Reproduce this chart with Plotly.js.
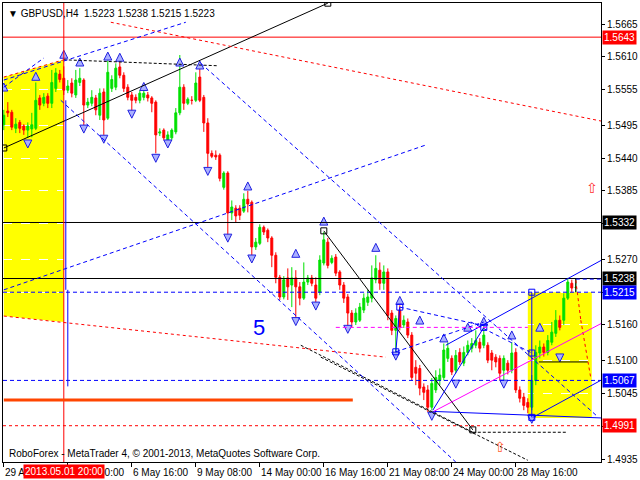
<!DOCTYPE html>
<html><head><meta charset="utf-8">
<script src="https://cdn.plot.ly/plotly-3.0.1.min.js"></script>
<style>html,body{margin:0;padding:0;background:#fff}</style>
</head><body><div id="chart" style="width:640px;height:480px"></div>
<script>
// ---- OHLC data (GBPUSD H4), bar 0 = 29 Apr 2013 08:00 ----
const barOpen = [1.5496,1.5519,1.5517,1.5490,1.5500,1.5494,1.5487,1.5489,1.5490,1.5541,1.5532,1.5544,1.5532,1.5557,1.5581,1.5574,1.5554,1.5566,1.5546,1.5567,1.5571,1.5529,1.5532,1.5541,1.5512,1.5551,1.5507,1.5557,1.5559,1.5593,1.5579,1.5559,1.5546,1.5542,1.5537,1.5542,1.5546,1.5541,1.5534,1.5482,1.5487,1.5470,1.5474,1.5484,1.5516,1.5559,1.5532,1.5537,1.5537,1.5576,1.5542,1.5499,1.5448,1.5445,1.5445,1.5391,1.5415,1.5348,1.5356,1.5356,1.5351,1.5371,1.5366,1.5291,1.5297,1.5324,1.5319,1.5306,1.5277,1.5240,1.5207,1.5239,1.5227,1.5239,1.5224,1.5205,1.5232,1.5239,1.5227,1.5215,1.5264,1.5299,1.5265,1.5274,1.5249,1.5227,1.5207,1.5180,1.5165,1.5168,1.5185,1.5198,1.5205,1.5236,1.5252,1.5230,1.5249,1.5180,1.5151,1.5185,1.5160,1.5165,1.5143,1.5089,1.5087,1.5056,1.5051,1.5022,1.5051,1.5067,1.5072,1.5104,1.5104,1.5084,1.5114,1.5096,1.5114,1.5121,1.5126,1.5131,1.5126,1.5126,1.5113,1.5106,1.5104,1.5084,1.5096,1.5084,1.5114,1.5051,1.5039,1.5030,1.5022,1.5067,1.5113,1.5123,1.5114,1.5131,1.5146,1.5168,1.5168,1.5205,1.5230,1.5223];
const barHigh = [1.5521,1.5534,1.5521,1.5507,1.5504,1.5497,1.5500,1.5516,1.5567,1.5546,1.5549,1.5549,1.5588,1.5591,1.5588,1.5594,1.5571,1.5574,1.5588,1.5591,1.5574,1.5541,1.5554,1.5546,1.5557,1.5557,1.5604,1.5579,1.5599,1.5601,1.5584,1.5564,1.5551,1.5547,1.5554,1.5554,1.5551,1.5544,1.5537,1.5490,1.5490,1.5485,1.5490,1.5524,1.5613,1.5564,1.5542,1.5544,1.5584,1.5596,1.5546,1.5507,1.5453,1.5453,1.5448,1.5418,1.5418,1.5369,1.5361,1.5361,1.5381,1.5385,1.5369,1.5306,1.5329,1.5327,1.5322,1.5309,1.5282,1.5244,1.5242,1.5255,1.5257,1.5252,1.5232,1.5265,1.5244,1.5244,1.5240,1.5277,1.5316,1.5306,1.5277,1.5279,1.5252,1.5232,1.5212,1.5185,1.5188,1.5197,1.5213,1.5219,1.5260,1.5277,1.5265,1.5260,1.5255,1.5185,1.5176,1.5193,1.5176,1.5171,1.5148,1.5101,1.5093,1.5062,1.5059,1.5071,1.5084,1.5087,1.5129,1.5131,1.5109,1.5118,1.5121,1.5124,1.5134,1.5138,1.5151,1.5138,1.5158,1.5131,1.5118,1.5111,1.5109,1.5109,1.5101,1.5131,1.5121,1.5057,1.5046,1.5037,1.5076,1.5126,1.5134,1.5129,1.5143,1.5165,1.5185,1.5176,1.5213,1.5239,1.5236,1.5238];
const barLow = [1.5487,1.5509,1.5487,1.5482,1.5482,1.5479,1.5474,1.5475,1.5487,1.5521,1.5527,1.5524,1.5524,1.5551,1.5567,1.5546,1.5549,1.5542,1.5541,1.5561,1.5495,1.5524,1.5527,1.5512,1.5504,1.5479,1.5504,1.5551,1.5554,1.5574,1.5551,1.5537,1.5517,1.5532,1.5532,1.5537,1.5535,1.5517,1.5448,1.5477,1.5470,1.5467,1.5470,1.5480,1.5512,1.5521,1.5529,1.5530,1.5534,1.5534,1.5484,1.5425,1.5440,1.5437,1.5401,1.5387,1.5311,1.5336,1.5332,1.5336,1.5348,1.5349,1.5277,1.5286,1.5294,1.5311,1.5299,1.5257,1.5230,1.5202,1.5203,1.5202,1.5190,1.5173,1.5193,1.5202,1.5227,1.5225,1.5197,1.5210,1.5260,1.5255,1.5262,1.5242,1.5219,1.5197,1.5156,1.5156,1.5160,1.5165,1.5180,1.5192,1.5198,1.5230,1.5219,1.5219,1.5168,1.5143,1.5113,1.5151,1.5155,1.5138,1.5067,1.5059,1.5042,1.5034,1.5014,1.5017,1.5046,1.5059,1.5067,1.5098,1.5076,1.5079,1.5093,1.5091,1.5109,1.5114,1.5121,1.5114,1.5121,1.5096,1.5084,1.5089,1.5067,1.5064,1.5077,1.5079,1.5046,1.5030,1.5017,1.5012,1.5017,1.5059,1.5104,1.5107,1.5109,1.5126,1.5140,1.5151,1.5160,1.5202,1.5215,1.5215];
const barClose = [1.5512,1.5516,1.5492,1.5497,1.5490,1.5487,1.5494,1.5496,1.5537,1.5529,1.5542,1.5532,1.5567,1.5583,1.5572,1.5554,1.5561,1.5549,1.5571,1.5574,1.5529,1.5534,1.5542,1.5521,1.5549,1.5504,1.5584,1.5572,1.5591,1.5579,1.5557,1.5542,1.5537,1.5537,1.5549,1.5549,1.5541,1.5532,1.5479,1.5484,1.5474,1.5479,1.5487,1.5516,1.5559,1.5532,1.5539,1.5537,1.5566,1.5537,1.5499,1.5448,1.5443,1.5442,1.5406,1.5415,1.5348,1.5358,1.5343,1.5344,1.5371,1.5363,1.5291,1.5299,1.5324,1.5316,1.5306,1.5277,1.5240,1.5207,1.5236,1.5224,1.5239,1.5224,1.5205,1.5232,1.5239,1.5230,1.5205,1.5269,1.5303,1.5260,1.5272,1.5247,1.5227,1.5205,1.5180,1.5165,1.5180,1.5190,1.5205,1.5207,1.5239,1.5255,1.5230,1.5249,1.5176,1.5151,1.5171,1.5156,1.5168,1.5143,1.5072,1.5079,1.5054,1.5047,1.5022,1.5062,1.5072,1.5076,1.5118,1.5121,1.5081,1.5109,1.5098,1.5114,1.5126,1.5129,1.5134,1.5121,1.5143,1.5101,1.5101,1.5098,1.5079,1.5104,1.5084,1.5113,1.5051,1.5037,1.5025,1.5022,1.5067,1.5114,1.5123,1.5114,1.5134,1.5148,1.5168,1.5156,1.5205,1.5232,1.5222,1.5223];

// ---- axis tick labels ----
const timeTickBars = [0,16,32,48,64,80,96,112,128];
const timeTickLabels = ["29 Apr 08:00","2 May 00:00","6 May 16:00","9 May 08:00","14 May 00:00","16 May 16:00","21 May 08:00","24 May 00:00","28 May 16:00"];
const priceTicks = [1.5665,1.5610,1.5555,1.5495,1.5440,1.5385,1.5330,1.5270,1.5215,1.5160,1.5100,1.5045,1.4990,1.4935];

// ---- horizontal levels (price labels on the axis) ----
const levelPrices = [1.5643,1.5332,1.5238,1.5215,1.5067,1.4991];
const levelLabels = ["1.5643","1.5332","1.5238","1.5215","1.5067","1.4991"];
const levelColors = ["#ff0000","#000000","#000000","#0000ff","#0000ff","#ff0000"];
const levelDash = ["solid","solid","solid","4px,3px","4px,3px","3px,3px"];

// ---- arrow marks ----
const upArrowBar = [0,8,15,19,26,29,35,44,49,61,73,80,93,99,104,110,116,120,127,134];
const upArrowPrice = [1.5566,1.5584,1.5621,1.5608,1.5618,1.5616,1.5567,1.5608,1.5603,1.5400,1.5287,1.5341,1.5297,1.5208,1.5175,1.5145,1.5163,1.5173,1.5150,1.5163];
const downArrowBar = [6,20,25,32,38,41,51,56,62,73,78,86,98,107,113,125,132,139];
const downArrowPrice = [1.5457,1.5482,1.5465,1.5507,1.5433,1.5457,1.5411,1.5299,1.5264,1.5159,1.5185,1.5146,1.5101,1.5000,1.5054,1.5054,1.4995,1.5098];

// ---- anchor squares ----
const blackSquareBar = [0,81,80,117.25];
const blackSquarePrice = [1.5457,1.5700,1.5318,1.4984];
const blueSquareBar = [132,132,132,99,98,120];
const blueSquarePrice = [1.5215,1.5113,1.5005,1.5190,1.5115,1.5156];

// ---- trend lines / drawings: [bar0, price0, bar1, price1] ----
const blackSolidLines = [[0,1.5457,81,1.5700],[80,1.5318,117.25,1.4984],[133.75,1.5098,146,1.5098],[143,1.5238,143,1.5215]];
const blackDashLines = [[15,1.5605,53.5,1.5595],[117.25,1.4980,140.5,1.4980],[74.25,1.5126,117.25,1.4980],[79.25,1.5106,131,1.4933]];
const redDashLines = [[26.75,1.5668,149.5,1.5502],[0,1.5576,15,1.5605],[0,1.5175,95.5,1.5106],[143,1.5235,144.25,1.5168],[144.25,1.5168,146.75,1.5071]];
const blueDashLines = [[0,1.5571,45.5,1.5668],[0,1.5559,10,1.5608],[49.25,1.5599,148.5,1.5006],[14.25,1.5537,113,1.4930],[0,1.5219,105.5,1.5462],[143,1.5237,149.5,1.5237],[99,1.5190,120.5,1.5158],[116.75,1.5165,132,1.5113],[98,1.5115,120,1.5165]];
const blueSolidLines = [[110.5,1.5126,149.5,1.5269],[107.25,1.5015,149.5,1.5004],[132.25,1.5005,149.5,1.5068],[107.25,1.5017,120,1.5156],[132,1.5215,132,1.5005],[99,1.5190,98,1.5115],[15.5,1.5537,15.5,1.5219],[16,1.5219,16,1.5057]];
const magentaLines = [[107.5,1.5015,149.5,1.5163]];
const magentaDashLines = [[83,1.5156,131,1.5156]];
const orangeLines = [[0,1.5034,87.25,1.5034]];

// ---- highlighted zones ----
const leftZone = {bars:[0,15,15,0], prices:[1.5576,1.5605,1.5165,1.5175]};
const rightZone = {bar0:131,bar1:147,price0:1.5004,price1:1.5215};

const crossBar = 15;
const crossLabel = "2013.05.01 20:00";

const xs = barOpen.map((_, i) => i);
const FONT = "Liberation Sans, Arial, sans-serif";

const shapes = [];
function seg(a, color, dash, width){
  shapes.push({type:'line', xref:'x', yref:'y', x0:a[0], y0:a[1], x1:a[2], y1:a[3],
    line:{color:color, dash:dash, width:width}, layer:'above'});
}
shapes.push({type:'path', xref:'x', yref:'y', layer:'below', fillcolor:'#ffff00', line:{width:0},
  path:'M' + leftZone.bars.map((b,k)=> b + ',' + leftZone.prices[k]).join(' L') + ' Z'});
shapes.push({type:'rect', xref:'x', yref:'y', layer:'below', fillcolor:'#ffff00', line:{width:0},
  x0:rightZone.bar0, x1:rightZone.bar1, y0:rightZone.price0, y1:rightZone.price1});
levelPrices.forEach((p,k)=>{
  shapes.push({type:'line', xref:'paper', yref:'y', x0:0, x1:1, y0:p, y1:p,
    line:{color:levelColors[k], dash:levelDash[k], width:1}, layer:'above'});
});
shapes.push({type:'line', xref:'x', yref:'paper', x0:crossBar, x1:crossBar, y0:0, y1:1,
  line:{color:'#ff0000', width:1}, layer:'above'});
blackSolidLines.forEach(a=>seg(a,'#000000','solid',1));
blackDashLines.forEach(a=>seg(a,'#000000','3px,2px',1));
redDashLines.forEach(a=>seg(a,'#ff0000','3px,3px',1));
blueDashLines.forEach(a=>seg(a,'#0000ff','4px,3px',1));
blueSolidLines.forEach(a=>seg(a,'#0000ff','solid',1));
magentaLines.forEach(a=>seg(a,'#ff00ff','solid',1));
magentaDashLines.forEach(a=>seg(a,'#ff00ff','4px,3px',1));
orangeLines.forEach(a=>seg(a,'#ff4500','solid',3));

const traces = [
  {type:'candlestick', x:xs, open:barOpen, high:barHigh, low:barLow, close:barClose,
   increasing:{line:{color:'#00e000', width:1}, fillcolor:'#00e000'},
   decreasing:{line:{color:'#ff0000', width:1}, fillcolor:'#ff0000'},
   whiskerwidth:0, hoverinfo:'skip', showlegend:false},
  {type:'scatter', mode:'markers', x:upArrowBar, y:upArrowPrice, showlegend:false, hoverinfo:'skip',
   marker:{symbol:'arrow-up', size:8, color:'#aab0ff', line:{color:'#2020e0', width:1}}},
  {type:'scatter', mode:'markers', x:downArrowBar, y:downArrowPrice, showlegend:false, hoverinfo:'skip',
   marker:{symbol:'arrow-down', size:8, color:'#aab0ff', line:{color:'#2020e0', width:1}}},
  {type:'scatter', mode:'markers', x:blackSquareBar, y:blackSquarePrice, showlegend:false, hoverinfo:'skip',
   marker:{symbol:'square-open', size:6, color:'#000000', line:{width:1}}},
  {type:'scatter', mode:'markers', x:blueSquareBar, y:blueSquarePrice, showlegend:false, hoverinfo:'skip',
   marker:{symbol:'square-open', size:6, color:'#0000ff', line:{width:1}}}
];

const annotations = [];
// time labels start at their tick, as in MetaTrader
timeTickBars.forEach((b,k)=>{
  annotations.push({xref:'x', yref:'paper', x:b, y:0, xanchor:'left', yanchor:'top', yshift:-3, xshift:-1,
    text:timeTickLabels[k], showarrow:false, font:{family:FONT, size:10, color:'#000000'}});
});
levelPrices.forEach((p,k)=>{
  annotations.push({xref:'paper', yref:'y', x:1, y:p, xanchor:'left', yanchor:'middle', xshift:1,
    text:levelLabels[k], showarrow:false, bgcolor:levelColors[k], borderpad:1,
    font:{family:FONT, size:10, color:'#ffffff'}});
});
annotations.push({xref:'x', yref:'paper', x:crossBar, y:0, xanchor:'center', yanchor:'top', yshift:-2,
  text:crossLabel, showarrow:false, bgcolor:'#ff0000', borderpad:1, font:{family:FONT, size:10, color:'#ffffff'}});
annotations.push({xref:'paper', yref:'paper', x:0, y:1, xanchor:'left', yanchor:'top', xshift:3, yshift:-3,
  text:'▼ GBPUSD,H4  1.5223 1.5238 1.5215 1.5223', showarrow:false, font:{family:FONT, size:10, color:'#000000'}});
annotations.push({xref:'paper', yref:'paper', x:0, y:0, xanchor:'left', yanchor:'bottom', xshift:4, yshift:1,
  text:'RoboForex - MetaTrader 4, © 2001-2013, MetaQuotes Software Corp.', showarrow:false, font:{family:FONT, size:10, color:'#000000'}});
annotations.push({xref:'x', yref:'y', x:63.75, y:1.5156, text:'5', showarrow:false,
  font:{family:FONT, size:22, color:'#0000ff'}});
annotations.push({xref:'x', yref:'y', x:147, y:1.5390, text:'⇧', showarrow:false,
  font:{family:'DejaVu Sans', size:14, color:'#ff3030'}});
annotations.push({xref:'x', yref:'y', x:124, y:1.4955, text:'⇧', showarrow:false,
  font:{family:'DejaVu Sans', size:14, color:'#ff6030'}});

// tick labels hidden where a level label box sits on top of them
const coveredTicks = [1.5330,1.5215,1.4990];
const yTickText = priceTicks.map(v => coveredTicks.includes(v) ? '' : v.toFixed(4));

const layout = {
  width:640, height:480,
  margin:{l:3, r:39, t:3, b:18},
  paper_bgcolor:'#ffffff', plot_bgcolor:'#ffffff',
  hovermode:false, showlegend:false,
  font:{family:FONT, size:10, color:'#000000'},
  xaxis:{range:[-0.2,149.3], rangeslider:{visible:false}, tickvals:timeTickBars, showticklabels:false,
    ticks:'outside', ticklen:4, tickcolor:'#000000',
    showline:true, mirror:true, linecolor:'#000000', linewidth:1,
    showgrid:true, gridcolor:'#ffffff', griddash:'dash', zeroline:false},
  yaxis:{range:[1.49301,1.57003], side:'right', tickvals:priceTicks, ticktext:yTickText,
    ticks:'outside', ticklen:3, tickcolor:'#000000',
    showline:true, mirror:true, linecolor:'#000000', linewidth:1,
    showgrid:true, gridcolor:'#ffffff', griddash:'dash', zeroline:false,
    tickfont:{family:FONT, size:10, color:'#000000'}},
  shapes:shapes, annotations:annotations
};

Plotly.newPlot('chart', traces, layout, {staticPlot:true, displayModeBar:false});
</script></body></html>
